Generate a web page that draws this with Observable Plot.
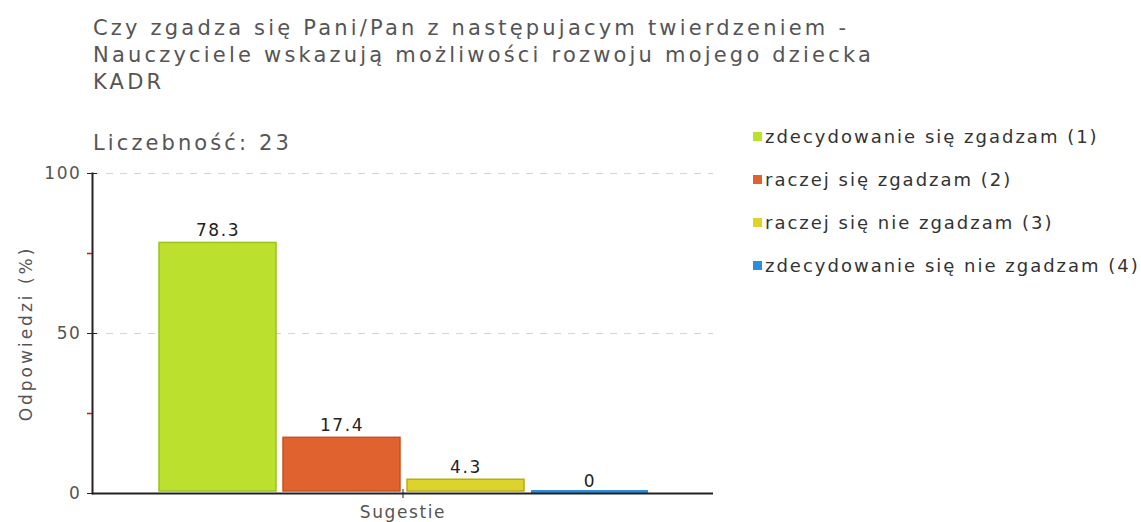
<!DOCTYPE html>
<html>
<head>
<meta charset="utf-8">
<script src="https://cdn.jsdelivr.net/npm/d3@7"></script>
<script src="https://cdn.jsdelivr.net/npm/@observablehq/plot@0.6"></script>
<style>
  body { margin: 0; background: #fff; }
  #wrap { position: relative; width: 1141px; height: 522px; overflow: hidden; font-family: "DejaVu Sans", sans-serif; }
  #title { position: absolute; left: 93px; top: 15px; font-size: 21px; line-height: 27px; letter-spacing: 3.2px; color: #555; white-space: nowrap; }
  #sub { position: absolute; left: 93px; top: 130px; font-size: 21px; line-height: 27px; letter-spacing: 3.1px; color: #555; white-space: nowrap; }
  #chart { position: absolute; left: 0; top: 0; }
  #legend { position: absolute; left: 753px; top: 115px; width: 388px; }
  .lg-swatch { padding-bottom: 0 !important; height: 43px; margin: 0 !important; }
  .lg-swatch svg { margin-right: 3px !important; }
</style>
</head>
<body>
<div id="wrap">
  <div id="title"></div>
  <div id="sub"></div>
  <div id="chart"></div>
  <div id="legend"></div>
</div>
<script>
const titleLines = ["Czy zgadza się Pani/Pan z następujacym twierdzeniem -", "Nauczyciele wskazują możliwości rozwoju mojego dziecka", "KADR"];
const subtitle = "Liczebność: 23";
const group = "Sugestie";
const categories = ["zdecydowanie się zgadzam (1)", "raczej się zgadzam (2)", "raczej się nie zgadzam (3)", "zdecydowanie się nie zgadzam (4)"];
const values = [78.3, 17.4, 4.3, 0];
const valueLabels = ["78.3", "17.4", "4.3", "0"];
const fills = ["#bce02e", "#e0632f", "#dcd42c", "#2f8ddd"];
const edges = ["#9cc21c", "#c8511e", "#b8ad14", "#2f8ddd"];
const yTicks = [0, 50, 100];
const yMinorTicks = [25, 75];
const yLabel = "Odpowiedzi (%)";

document.getElementById("title").innerHTML = titleLines.join("<br>");
document.getElementById("sub").textContent = subtitle;

const data = categories.map((c, i) => ({group, cat: c, value: values[i], label: valueLabels[i], edge: edges[i]}));

const chart = Plot.plot({
  width: 740,
  height: 522,
  marginTop: 173,
  marginBottom: 29,
  marginLeft: 92,
  marginRight: 27,
  style: {fontFamily: "DejaVu Sans, sans-serif", fontSize: "17px", color: "#555", background: "transparent"},
  x: {domain: categories, axis: null, insetLeft: 59, insetRight: 57, paddingInner: 0.056, paddingOuter: 0.056},
  fx: {domain: [group], padding: 0, label: null},
  y: {domain: [0, 100], label: null},
  color: {domain: categories, range: fills},
  marks: [
    Plot.gridY(yTicks.filter(d => d > 0), {stroke: "#d4d4d4", strokeOpacity: 1, strokeDasharray: "7,7"}),
    ...data.map(d => Plot.barY([d], {fx: "group", x: "cat", y: "value", fill: "cat", stroke: d.edge, strokeWidth: 1.5, insetBottom: 2})),
    Plot.tickY(data.filter(d => d.value === 0), {fx: "group", x: "cat", y: "value", stroke: "cat", strokeWidth: 3, dy: -2}),
    Plot.text(data, {fx: "group", x: "cat", y: "value", text: "label", dy: -7, lineAnchor: "bottom", fill: "#222", fontSize: 17}),
    Plot.ruleY([0], {stroke: "#222", strokeWidth: 2}),
    Plot.frame({anchor: "left", stroke: "#222", strokeWidth: 2}),
    Plot.axisY({ticks: yMinorTicks, tickSize: 5, color: "#ff0000", stroke: "#ff0000", strokeWidth: 1.5, strokeOpacity: 1, tickFormat: () => "", label: null}),
    Plot.axisY({ticks: yTicks, tickSize: 10, dx: 5, tickPadding: 6, stroke: "#222", fill: "#555", fontSize: 17,
      label: yLabel, labelArrow: "none", labelAnchor: "center", labelOffset: 73}),
    Plot.axisFx({anchor: "bottom", tickSize: 9, dy: -4, tickPadding: 7, stroke: "#222", fill: "#555", fontSize: 17, label: null})
  ]
});
chart.querySelectorAll("text").forEach(t => {
  t.style.letterSpacing = (t.textContent === yLabel) ? "3px" : "1.6px";
});
document.getElementById("chart").appendChild(chart);

const legend = Plot.legend({
  color: {domain: categories, range: fills},
  legend: "swatches",
  columns: 1,
  swatchSize: 9,
  className: "lg",
  style: {fontFamily: "DejaVu Sans, sans-serif", fontSize: "18px", color: "#333", letterSpacing: "2px"}
});
document.getElementById("legend").appendChild(legend);
</script>
</body>
</html>
